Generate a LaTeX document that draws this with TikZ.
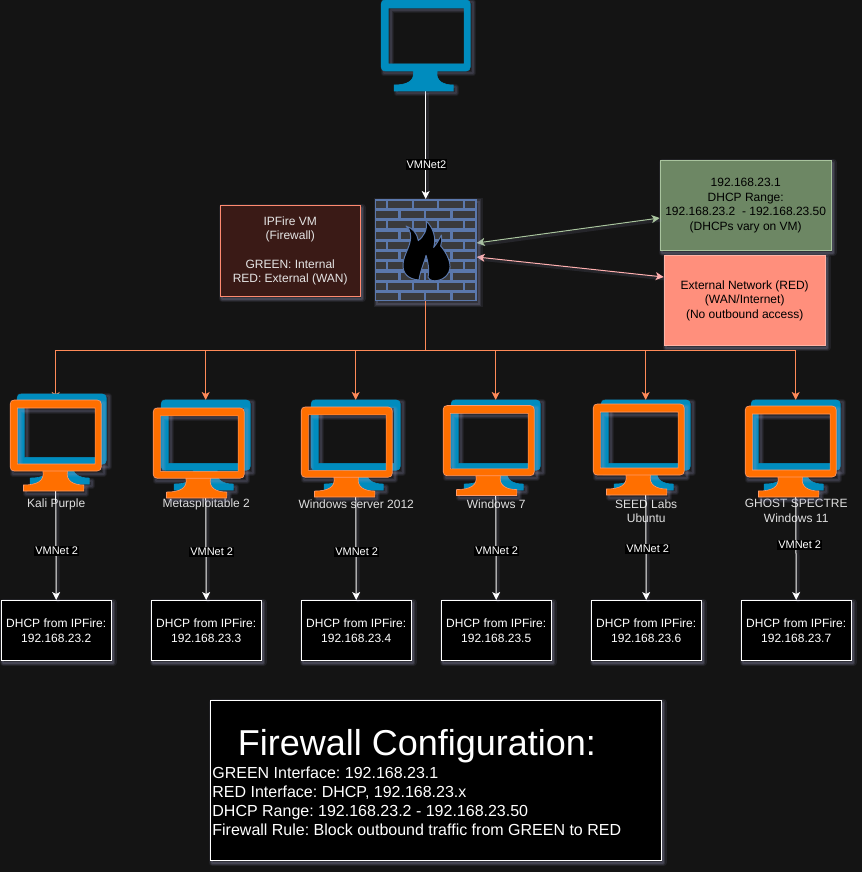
\documentclass[tikz,border=0pt]{standalone}
\usepackage{fontspec}
\setmainfont{Liberation Sans}
\AtBeginDocument{\frenchspacing}
\usetikzlibrary{arrows.meta,calc}
\definecolor{bgc}{HTML}{141414}
\definecolor{blueM}{HTML}{008CBE}
\definecolor{orangeM}{HTML}{FF6F00}
\definecolor{orangeL}{HTML}{FF9A6A}
\definecolor{shc}{HTML}{9A9AC0}
\definecolor{wallb}{HTML}{5B78AC}
\definecolor{brick}{HTML}{3A3A3C}
\definecolor{greenF}{HTML}{6D8764}
\definecolor{greenL}{HTML}{A9C49E}
\definecolor{redF}{HTML}{FF8F7C}
\definecolor{redL}{HTML}{FFB3A6}
\definecolor{pinkL}{HTML}{FFB0B0}
\definecolor{dropL}{HTML}{FF8A58}
\definecolor{ipfireF}{HTML}{3A1A16}
\definecolor{ipfireL}{HTML}{FF8A70}
\tikzset{
  moni/.style={rectangle,inner sep=0pt,outer sep=0pt,anchor=north west},
  t12/.style={font=\fontsize{12}{14.4}\selectfont,align=center,inner sep=0pt},
  dhcpbox/.style={rectangle,draw=white,fill=black,line width=1pt,text=white,minimum width=110pt,minimum height=60pt,inner sep=0pt,anchor=north west,font=\fontsize{12}{15}\selectfont,align=center},
  vmlabel/.style={fill=black,text=white,inner xsep=1pt,inner ysep=1.5pt,xshift=.7pt,font=\fontsize{11}{13}\selectfont},
  pclabel/.style={t12,text=white!88!black,anchor=center},
  edgeglow/.style={preaction={draw=shc,draw opacity=.13,line width=3pt,transform canvas={shift={(2pt,-2pt)}},arrows=-}},
  wline/.style={edgeglow,draw=white,line width=1pt,-{Stealth[length=8pt,width=8pt,inset=2pt]}},
  dropline/.style={draw=dropL,line width=1pt,-{Stealth[length=8pt,width=8pt,inset=2pt]}},
  busline/.style={draw=dropL,line width=1pt},
  twoway/.style={edgeglow,line width=1pt,{Stealth[length=8pt,width=8pt,inset=2pt]}-{Stealth[length=8pt,width=8pt,inset=2pt]}},
}
\newcommand{\halobox}[4]{%
  \foreach \wd/\op in {7/.10,4.5/.14,2/.20}{%
    \draw[shc,opacity=\op,line width=\wd pt,line join=round]
      (#1+2.5,#2+2.5) rectangle (#3+2.5,#4+2.5);}%
}
% name, x, y, width, height, colour, outline colour
\newcommand{\drawmonitor}[7]{%
  \begin{scope}[shift={(#2,#3)},xscale=#4/89,yscale=#5/91]
    \foreach \wd/\op in {6/.08,4/.10,2/.14}{%
      \draw[shc,opacity=\op,line width=\wd pt,line join=round,shift={(2.5,2.5)}]
        (0,0) rectangle (89,71)
        (7,8) rectangle (83,64)
        (13,85) rectangle (72,91);}
    \fill[#6] (32,70.5) .. controls (34,81) and (26,85) .. (13,85) -- (13,91) -- (72,91) -- (72,85)
      .. controls (62,85) and (54,81) .. (56,70.5) -- cycle;
    \draw[#7,line width=.6pt] (32,71) .. controls (34,81) and (26,85) .. (13,85) -- (13,91) -- (72,91) -- (72,85)
      .. controls (62,85) and (54,81) .. (56,71);
    \filldraw[fill=#6,draw=#7,line width=.6pt,even odd rule]
      (4,0) -- (85,0) .. controls (87.5,0) and (89,1.5) .. (89,4) -- (89,67)
      .. controls (89,69.5) and (87.5,71) .. (85,71) -- (4,71)
      .. controls (1.5,71) and (0,69.5) .. (0,67) -- (0,4)
      .. controls (0,1.5) and (1.5,0) .. (4,0) -- cycle
      (7,8) -- (83,8) -- (83,64) -- (7,64) -- cycle;
  \end{scope}%
}
\begin{document}
\begin{tikzpicture}[x=1pt,y=-1pt]
\fill[bgc] (0,0) rectangle (862,872);
\useasboundingbox (0,0) rectangle (862,872);
\begin{scope}[xshift=-.3pt]

% ---------- anchors
\node[moni,minimum width=89pt,minimum height=91pt] (top) at (381.5,0) {};
\node[moni,minimum width=102pt,minimum height=102pt] (fw) at (375,199) {};
\coordinate (bus) at (fw.south |- 0,350.5);
\coordinate (fwg) at (477,243);
\coordinate (fwr) at (477,257);
\coordinate (gport) at (660,218);
\coordinate (rport) at (664,277);

% ---------- text boxes
\halobox{220}{205}{360}{296}
\node[rectangle,draw=ipfireL,fill=ipfireF,line width=1pt,minimum width=140pt,minimum height=91pt,anchor=north west,inner sep=0pt,t12,text=white!90!black] (ipf) at (220,205)
  {IPFire VM\\(Firewall)\\[14.4pt]GREEN: Internal\\RED: External (WAN)};
\halobox{660}{160}{831}{250}
\node[rectangle,draw=greenL,fill=greenF,line width=1pt,minimum width=171pt,minimum height=90pt,anchor=north west,inner sep=0pt,t12,text=black] (grn) at (660,160)
  {192.168.23.1\\DHCP Range:\\192.168.23.2 \ - 192.168.23.50\\(DHCPs vary on VM)};
\halobox{664}{255}{825}{345}
\node[rectangle,draw=redL,fill=redF,line width=1pt,minimum width=161pt,minimum height=90pt,anchor=north west,inner sep=0pt,t12,text=black] (red) at (664,255)
  {External Network (RED)\\(WAN/Internet)\\(No outbound access)};

% ---------- connectors to the firewall side
\draw[twoway,draw=greenL] (fwg) -- (gport);
\draw[twoway,draw=pinkL] (fwr) -- (rport);
\draw[wline] (top.south) -- node[vmlabel,pos=.68] {VMNet2} (fw.north);

% ---------- firewall
\begin{scope}[shift={(375,199)}]
  \foreach \wd/\op in {7/.10,4.5/.14,2/.20}{\draw[shc,opacity=\op,line width=\wd pt] (2.5,2.5) rectangle (104.5,104.5);}
  \fill[wallb] (0,0) rectangle (102,102);
  \foreach \r in {0,2,4,6,8}{
    \foreach \a/\b in {1.3/11.3,13.7/37,39.3/62.7,64.7/88,90.7/100.7}{
      \fill[brick] (\a,{1.8+\r*10.25}) rectangle (\b,{8.8+\r*10.25});}
  }
  \foreach \r in {1,3,5,7,9}{
    \foreach \a/\b in {1.3/23.7,26/49.3,51.3/75.3,78/100.7}{
      \fill[brick] (\a,{1.8+\r*10.25}) rectangle (\b,{8.8+\r*10.25});}
  }
\end{scope}
\begin{scope}[shift={(360,190)},x=.3333pt,y=-.3333pt]
  \filldraw[fill=black,draw=wallb,line width=1pt,line join=round]
    (178,270) .. controls (145,268) and (128,250) .. (130,222)
    .. controls (132,190) and (158,165) .. (152,130)
    .. controls (151,122) and (146,114) .. (139,108)
    .. controls (160,115) and (172,130) .. (176,152)
    .. controls (190,140) and (205,122) .. (199,92)
    .. controls (222,115) and (230,145) .. (222,172)
    .. controls (230,162) and (238,150) .. (245,135)
    .. controls (247,150) and (246,158) .. (243,168)
    .. controls (262,190) and (275,220) .. (270,238)
    .. controls (265,262) and (240,275) .. (218,272)
    .. controls (212,270) and (208,268) .. (205,262)
    .. controls (210,240) and (205,215) .. (199,196)
    .. controls (195,215) and (182,240) .. (178,270) -- cycle;
\end{scope}

% ---------- bus to the machines
\node[moni,minimum width=91pt,minimum height=91pt] (o1) at (10.5,400) {};
\node[moni,minimum width=89pt,minimum height=90pt] (b2) at (161.5,400) {};
\node[moni,minimum width=89pt,minimum height=90pt] (b3) at (311.5,400) {};
\node[moni,minimum width=89pt,minimum height=90pt] (b4) at (451.5,400) {};
\node[moni,minimum width=89pt,minimum height=90pt] (b5) at (601.5,400) {};
\node[moni,minimum width=89pt,minimum height=90pt] (b6) at (751.5,400) {};
\draw[busline] (fw.south) -- (bus);
\draw[dropline] (bus) -| (o1.north);
\draw[dropline] (bus) -| (b2.north);
\draw[dropline] (bus) -| (b3.north);
\draw[dropline] (bus) -| (b4.north);
\draw[dropline] (bus) -| (b5.north);
\draw[dropline] (bus) -| (b6.north);

% ---------- machine labels
\node[pclabel] (n1) at (56.5,504) {Kali Purple};
\node[pclabel] (n2) at (206.5,504) {Metasploitable 2};
\node[pclabel] (n3) at (356.5,504) {Windows server 2012};
\node[pclabel] (n4) at (496.5,504) {Windows 7};
\node[pclabel] (n5) at (646.5,511) {SEED Labs\\Ubuntu};
\node[pclabel] (n6) at (796.5,511) {GHOST SPECTRE\\Windows 11};

% ---------- DHCP boxes
\foreach \xx in {1,151,301,441,591,741}{
  \halobox{\xx}{600}{\xx+110}{660}
}
\node[dhcpbox] (d1) at (1,600) {DHCP from IPFire:\\192.168.23.2};
\node[dhcpbox] (d2) at (151,600) {DHCP from IPFire:\\192.168.23.3};
\node[dhcpbox] (d3) at (301,600) {DHCP from IPFire:\\192.168.23.4};
\node[dhcpbox] (d4) at (441,600) {DHCP from IPFire:\\192.168.23.5};
\node[dhcpbox] (d5) at (591,600) {DHCP from IPFire:\\192.168.23.6};
\node[dhcpbox] (d6) at (741,600) {DHCP from IPFire:\\192.168.23.7};

% ---------- VMNet 2 links
\draw[wline] (o1.south) -- node[vmlabel,pos=.55] {VMNet 2} (d1.north);
\draw[wline] (b2.south) -- node[vmlabel,pos=.564,xshift=5pt] {VMNet 2} (d2.north);
\draw[wline] (b3.south) -- node[vmlabel,pos=.564] {VMNet 2} (d3.north);
\draw[wline] (b4.south) -- node[vmlabel,pos=.555] {VMNet 2} (d4.north);
\draw[wline] (b5.south) -- node[vmlabel,pos=.536,xshift=1pt] {VMNet 2} (d5.north);
\draw[wline] (b6.south) -- node[vmlabel,pos=.5,xshift=3pt] {VMNet 2} (d6.north);

% ---------- monitors
\drawmonitor{top0}{381.5}{0}{89}{91}{blueM}{blueM}
\drawmonitor{m1b}{17.5}{394}{89}{90}{blueM}{blueM}
\drawmonitor{m1o}{10.5}{400}{91}{91}{orangeM}{orangeL}
\drawmonitor{m2b}{161.5}{400}{89}{90}{blueM}{blueM}
\drawmonitor{m2o}{153.5}{408}{91}{90}{orangeM}{orangeL}
\drawmonitor{m3b}{311.5}{400}{89}{90}{blueM}{blueM}
\drawmonitor{m3o}{301.5}{407}{91}{90}{orangeM}{orangeL}
\drawmonitor{m4b}{451.5}{400}{89}{90}{blueM}{blueM}
\drawmonitor{m4o}{443.5}{405.5}{91}{90}{orangeM}{orangeL}
\drawmonitor{m5b}{601.5}{400}{89}{90}{blueM}{blueM}
\drawmonitor{m5o}{593.5}{404}{91}{91}{orangeM}{orangeL}
\drawmonitor{m6b}{751.5}{400}{89}{90}{blueM}{blueM}
\drawmonitor{m6o}{745.5}{406}{91}{91}{orangeM}{orangeL}

% ---------- configuration panel
\halobox{210}{700}{661}{860}
\node[rectangle,draw=white,fill=black,line width=1pt,minimum width=451pt,minimum height=160pt,anchor=north west,inner sep=0pt] (cfg) at (210,700) {};
\node[anchor=base west,inner sep=0pt,text=white,font=\fontsize{36}{40}\selectfont] (cfgt) at (238,755) {Firewall Configuration:};
\node[anchor=base west,inner sep=0pt,text=white,font=\fontsize{16}{19}\selectfont] (c1) at (212.5,778.5) {GREEN Interface: 192.168.23.1};
\node[anchor=base west,inner sep=0pt,text=white,font=\fontsize{16}{19}\selectfont] (c2) at (212.5,797.5) {RED Interface: DHCP, 192.168.23.x};
\node[anchor=base west,inner sep=0pt,text=white,font=\fontsize{16}{19}\selectfont] (c3) at (212.5,816.5) {DHCP Range: 192.168.23.2 - 192.168.23.50};
\node[anchor=base west,inner sep=0pt,text=white,font=\fontsize{16}{19}\selectfont] (c4) at (212.5,835.5) {Firewall Rule: Block outbound traffic from GREEN to RED};
\end{scope}
\end{tikzpicture}
\end{document}
